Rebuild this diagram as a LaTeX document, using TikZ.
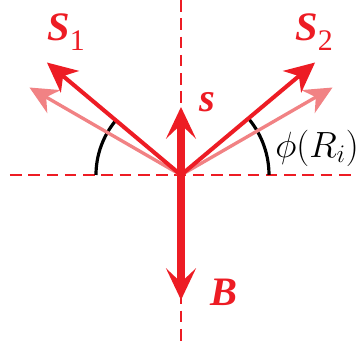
\documentclass[tikz,border=0pt]{standalone}
\usepackage{amsmath,amssymb}
\usepackage{fontspec}
\setmainfont{Liberation Serif}
\usetikzlibrary{arrows.meta}
\definecolor{spinred}{RGB}{237,28,36}
\definecolor{spinpink}{RGB}{241,130,132}
\tikzset{
	axisline/.style={spinred, line width=1.5pt, dash pattern=on 6.6pt off 3.8pt, line cap=butt},
	spinvec/.style={spinred, line width=2.3pt, -{Stealth[length=17pt,width=16pt,inset=5pt]}},
	oldvec/.style={spinpink, line width=1.9pt, -{Stealth[length=16pt,width=15pt,inset=5pt]}},
	fatvec/.style={spinred, line width=4pt, -{Stealth[length=18pt,width=17pt,inset=8pt]}},
	anglearc/.style={black, line width=1.8pt, line cap=butt},
	lbl/.style={spinred, font=\fontsize{23}{25}\selectfont\bfseries\itshape}
}
\begin{document}
\begin{tikzpicture}[scale=1, line join=round, line cap=round]
	\useasboundingbox (-3.62,-3.38) rectangle (3.62,3.5);
	\coordinate (O) at (0,0);
	\def\L{3.5}
	% axes
	\coordinate (W) at (-3.42,0);
	\coordinate (E) at (3.44,0);
	\coordinate (N) at (0,3.5);
	\coordinate (Sb) at (0,-3.38);
	\draw[axisline] (W) -- (E);
	\draw[axisline] (N) -- (Sb);
	% tips
	\coordinate (A1) at (140:\L);
	\coordinate (A2) at (40:\L);
	\coordinate (P1) at (150:\L);
	\coordinate (P2) at (30:\L);
	\coordinate (Ts) at (0,1.36);
	\coordinate (Tb) at (0,-2.5);
	% angles
	\draw[anglearc] (180:1.7) arc (180:140:1.7);
	\draw[anglearc] (0:1.76) arc (0:39:1.76);
	% vectors
	\draw[oldvec] (O) -- (P1);
	\draw[oldvec] (O) -- (P2);
	\draw[spinvec] (O) -- (A1);
	\draw[spinvec] (O) -- (A2);
	\draw[fatvec] (O) -- (Ts);
	\draw[fatvec] (O) -- (Tb);
	% labels
	\node[lbl] (s1) at (-2.3,2.86) {S\raisebox{-0.5ex}{\fontsize{17}{19}\selectfont\mdseries\upshape 1}};
	\node[lbl] (s2) at (2.66,2.86) {S\raisebox{-0.5ex}{\fontsize{17}{19}\selectfont\mdseries\upshape 2}};
	\node[lbl] (s) at (0.52,1.46) {s};
	\node[lbl] (b) at (0.86,-2.34) {B};
	\node[font=\fontsize{22}{24}\selectfont, anchor=west, inner sep=0pt] (phi) at (1.88,0.54) {$\phi(R_i)$};
\end{tikzpicture}
\end{document}
